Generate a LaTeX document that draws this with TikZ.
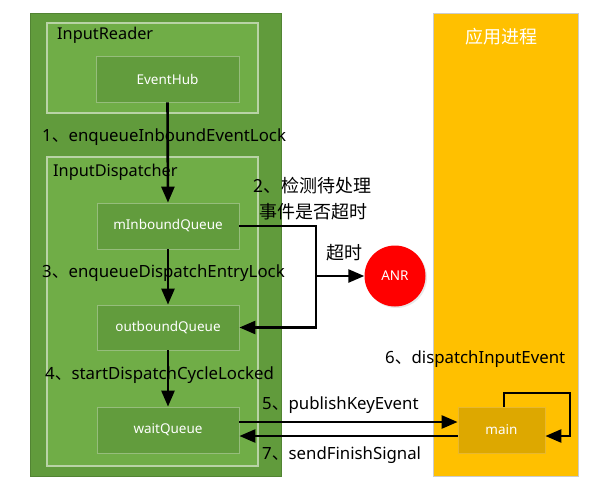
\documentclass[tikz,border=0pt]{standalone}
\usepackage{fontspec}
\setmainfont{Noto Sans}
\newfontfamily\cjk{Noto Sans CJK SC}
\usetikzlibrary{arrows.meta,calc,shadows}
\definecolor{gdark}{HTML}{619B3C}
\definecolor{gmid}{HTML}{70AD47}
\definecolor{gbox}{HTML}{629C3D}
\definecolor{gedge}{HTML}{B9D3A6}
\definecolor{yel}{HTML}{FFC000}
\definecolor{ybox}{HTML}{DDA800}
\definecolor{yedge}{HTML}{E8B830}
\tikzset{
  qbox/.style={fill=gbox, draw=gedge!60!gbox, line width=0.8pt, text=white, font=\fontsize{13.5}{15}\selectfont, inner sep=0pt},
  lbl/.style={font=\fontsize{16.8}{19}\selectfont, text=black, inner sep=0pt, anchor=west},
  clbl/.style={font=\cjk\fontsize{18}{21}\selectfont, text=black, inner sep=0pt, anchor=west},
  arr/.style={line width=2.6pt, -{Triangle[length=16pt,width=13pt]}}
}
\begin{document}
\begin{tikzpicture}[x=1pt,y=-1pt]
\useasboundingbox (0,0) rectangle (598,490);
% panels
\node[fill=gdark, draw=gdark!85!black, line width=0.6pt, minimum width=251pt, minimum height=463pt, inner sep=0pt] (outer) at (155.5,244.5) {};
\node[fill=gmid, draw=gedge, line width=1.2pt, minimum width=211pt, minimum height=90pt, inner sep=0pt] (reader) at (152.5,68) {};
\node[fill=gmid, draw=gedge, line width=1.2pt, minimum width=211pt, minimum height=309pt, inner sep=0pt] (disp) at (152.5,311.5) {};
\node[fill=yel, draw=gray!40, line width=0.8pt, minimum width=145pt, minimum height=463pt, inner sep=0pt] (app) at (505.5,244.5) {};
% titles
\node[font=\fontsize{16.3}{19}\selectfont, anchor=west, inner sep=0pt] (treader) at (57,35) {InputReader};
\node[font=\fontsize{16.3}{19}\selectfont, anchor=west, inner sep=0pt] (tdisp) at (53,172) {InputDispatcher};
\node[font=\cjk\fontsize{18}{21}\selectfont, text=white, inner sep=0pt] (tapp) at (501,37) {应用进程};
% boxes
\node[qbox, minimum width=143pt, minimum height=46pt] (eh) at (167.5,79) {EventHub};
\node[qbox, minimum width=142pt, minimum height=46pt] (inq) at (168,226) {mInboundQueue};
\node[qbox, minimum width=142pt, minimum height=45pt] (outq) at (168,327.5) {outboundQueue};
\node[qbox, minimum width=142pt, minimum height=46pt] (wq) at (168,430) {waitQueue};
\node[fill=ybox, draw=yedge, line width=0.8pt, text=white, font=\fontsize{13.5}{15}\selectfont, minimum width=87pt, minimum height=46pt, inner sep=0pt] (main) at (501.5,430) {main};
\node[circle, fill=red, text=white, font=\fontsize{13.5}{15}\selectfont, minimum size=61pt, inner sep=0pt, drop shadow={opacity=0.18, shadow xshift=1.5pt, shadow yshift=-1.5pt}] (anr) at (395,276) {ANR};
% labels
\node[lbl] (l1) at (42,137) {1{\cjk 、}enqueueInboundEventLock};
\node[clbl] (l2a) at (253,186) {2、检测待处理};
\node[clbl] (l2b) at (259,212) {事件是否超时};
\node[clbl] (l2c) at (326,253) {超时};
\node[lbl] (l3) at (42,273) {3{\cjk 、}enqueueDispatchEntryLock};
\node[lbl] (l4) at (45,375) {4{\cjk 、}startDispatchCycleLocked};
\node[lbl] (l5) at (262,405) {5{\cjk 、}publishKeyEvent};
\node[lbl] (l7) at (262,455) {7{\cjk 、}sendFinishSignal};
\node[lbl] (l6) at (385,359) {6{\cjk 、}dispatchInputEvent};
% connectors
\draw[arr] (eh.south) -- (inq.north);
\draw[arr] (inq.south) -- (outq.north);
\draw[arr] (outq.south) -- (wq.north);
\coordinate (j) at (316,276);
\draw[arr] (inq.east) -| (j) |- (outq.east);
\draw[arr] (j) -- (anr.west);
\draw[arr] ([yshift=8pt]wq.east) -- ([yshift=8pt]main.west);
\draw[arr] ([yshift=-6pt]main.west) -- ([yshift=-6pt]wq.east);
\coordinate (lp1) at (504,393);
\coordinate (lp2) at (570,436);
\draw[arr] (main.north -| lp1) -- (lp1) -| (lp2) -- (main.east |- lp2);
\end{tikzpicture}
\end{document}
